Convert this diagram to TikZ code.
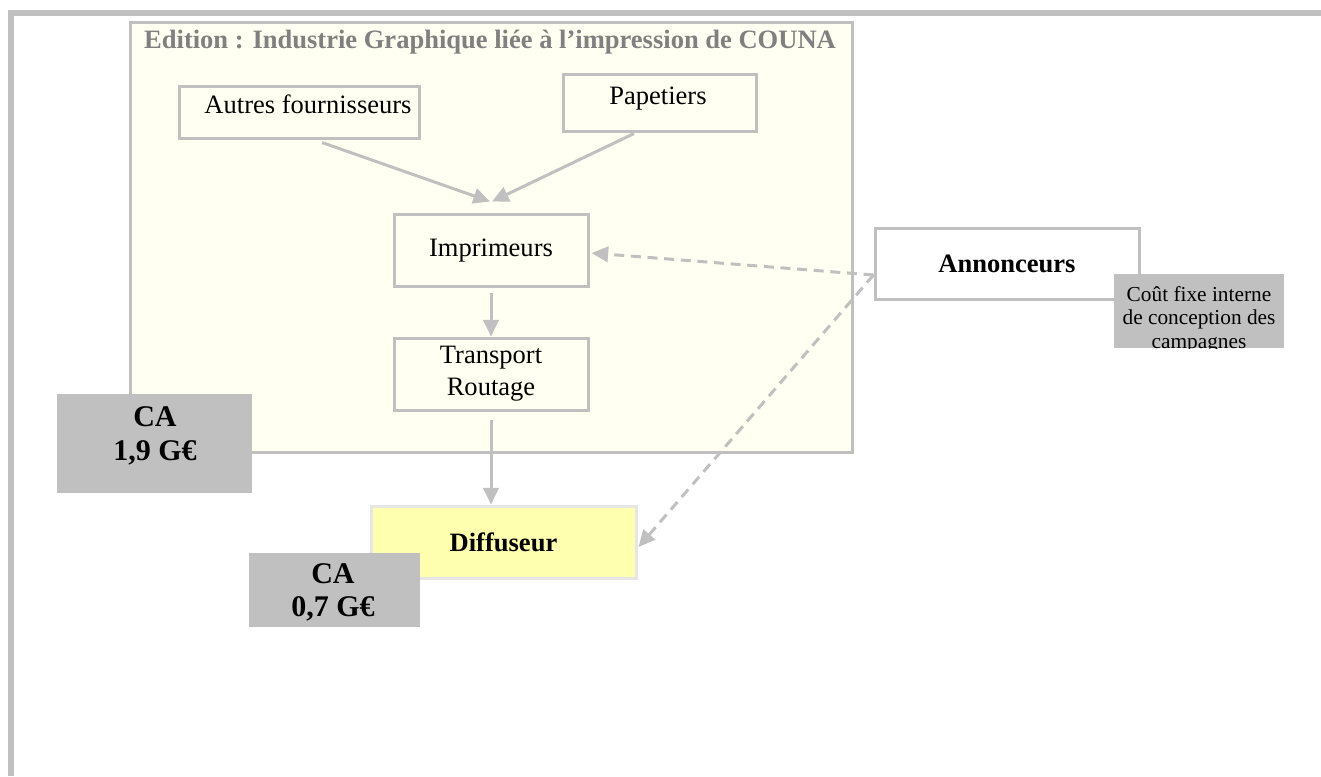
\documentclass[tikz,border=0pt]{standalone}
\usepackage{fontspec}
\setmainfont{Liberation Serif}
\usetikzlibrary{calc,arrows.meta}

\definecolor{frame}{HTML}{C0C0C0}
\definecolor{ivory}{HTML}{FFFFF2}
\definecolor{titlegray}{HTML}{808080}
\definecolor{diffyellow}{HTML}{FFFFB0}
\definecolor{diffedge}{HTML}{E6E6E6}

\begin{document}
\begin{tikzpicture}[x=0.75pt,y=-0.75pt,
  every node/.style={font=\fontsize{19.9pt}{24pt}\selectfont, inner sep=0pt},
  sized/.style 2 args={minimum width=#1*0.75pt, minimum height=#2*0.75pt},
  box/.style={rectangle, draw=frame, line width=2.25pt, fill=ivory},
  whitebox/.style={box, fill=white},
  shadebox/.style={rectangle, fill=frame},
  strong/.style={font=\fontsize{19.9pt}{24pt}\selectfont\bfseries},
  catext/.style={font=\fontsize{22.5pt}{25pt}\selectfont\bfseries, align=center},
  flow/.style={draw=frame, line width=2.25pt, -{Triangle[length=12.5pt,width=11.5pt]}},
  link/.style={flow, dash pattern=on 7.5pt off 5pt}]

\useasboundingbox (0,0) rectangle (1321,776);

% page frame: top and left rules
\draw[frame, line width=4.5pt] (1321,12.5) -- (11,12.5) -- (11,776);

% printing industry container
\node[box, sized={722}{430}] (edition) at (491,237) {};
\node[strong, text=titlegray] (edition-title) at (490,42)
  {Edition : Industrie Graphique liée à l’impression de COUNA};

% suppliers
\node[box, sized={240}{52}] (aut) at (299,112) {};
\node (aut-text) at (308,104) {Autres fournisseurs};
\node[box, sized={193}{57}] (pap) at (659.5,102.5) {};
\node (pap-text) at (658,99) {Papetiers};

% printing chain
\node[box, sized={194}{72}] (imp) at (491,250) {};
\node (imp-text) at (491,251) {Imprimeurs};
\node[box, sized={194}{72}, align=center] (tr) at (491,374) {Transport\\Routage};

\draw[flow] ($(aut.south)+(23,3)$) -- ($(imp.north)+(-1,-11)$);
\draw[flow] ($(pap.south)+(-25.5,1)$) -- ($(imp.north)+(1,-11)$);
\draw[flow] ($(imp.south)+(0,5)$) -- (tr.north);

% distributor
\node[rectangle, draw=diffedge, fill=diffyellow, line width=2.25pt,
      sized={265}{72}, strong] (diff) at (503.5,542) {Diffuseur};
\draw[flow] ($(tr.south)+(0,8)$) -- (tr.south |- diff.north);

% advertisers
\node[whitebox, sized={264}{71}, strong] (ann) at (1007,263.5) {Annonceurs};
\coordinate (ann-o) at ($(ann.west)+(0,11.5)$);
\draw[link] (ann-o) -- ($(imp.east)+(2,3)$);
\draw[link] (ann-o) -- ($(diff.east)+(1,5)$);

\node[shadebox, sized={170}{74}] (cost) at (1199,311) {};
\begin{scope}
  \clip (cost.south west) rectangle (cost.north east);
  \node[font=\fontsize{16pt}{17.6pt}\selectfont, align=center] (cost-text) at (1199,319.5)
    {Coût fixe interne\\de conception des\\campagnes};
\end{scope}

% turnover figures
\node[shadebox, sized={195}{99}] (ca1) at (154.5,443.5) {};
\node[catext] (ca1-text) at (155,436) {CA\\1,9 G€};
\node[shadebox, sized={171}{74}] (ca2) at (334.5,590) {};
\node[catext] (ca2-text) at (333,592.5) {CA\\0,7 G€};

\end{tikzpicture}
\end{document}
